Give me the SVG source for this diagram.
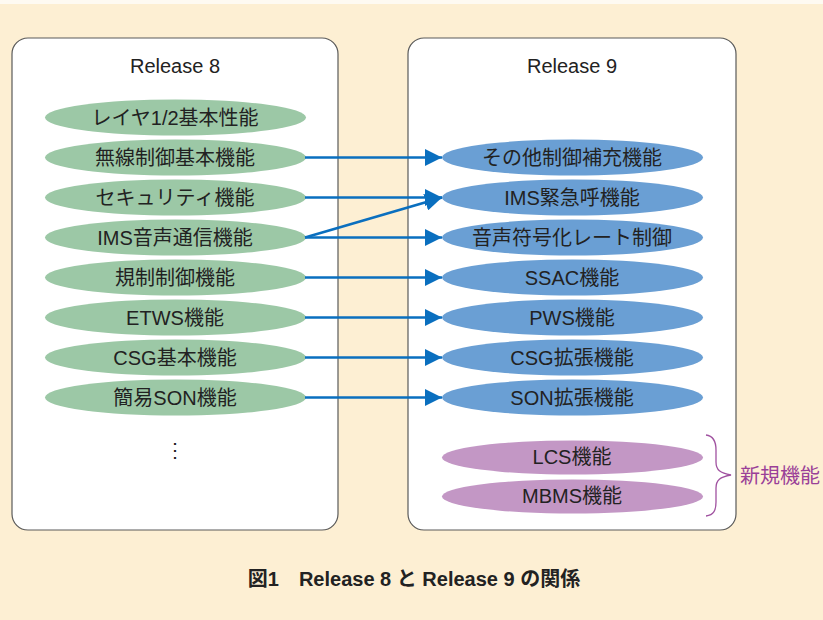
<svg xmlns="http://www.w3.org/2000/svg" width="823" height="620" viewBox="0 0 823 620">
<defs>
<style>
.box{fill:#fff;stroke:#5a5a5a;stroke-width:1.2}
.t{font-family:"Liberation Sans","Noto Sans CJK JP",sans-serif;font-size:20px;fill:#222;text-anchor:middle;dominant-baseline:central}
.g{fill:#9cc8a6}
.b{fill:#6a9fd4}
.p{fill:#c397c5}
.c{stroke:#0a6fbf;stroke-width:2.6;fill:none;marker-end:url(#ah)}
</style>
<marker id="ah" markerWidth="17" markerHeight="17" refX="17" refY="8.5" orient="auto" markerUnits="userSpaceOnUse">
<path d="M0,0 L17,8.5 L0,17 Z" fill="#0a6fbf"/>
</marker>
</defs>
<rect width="823" height="620" fill="#fdefd3"/>
<rect width="823" height="4" fill="#fefaf2"/>
<g id="release8">
<rect class="box" x="12" y="38" width="326" height="492" rx="16"/>
<text class="t" x="175" y="66">Release 8</text>
</g>
<g id="release9">
<rect class="box" x="408" y="38" width="328" height="492" rx="16"/>
<text class="t" x="572" y="66">Release 9</text>
</g>
<g id="r8-1"><ellipse class="g" cx="175.5" cy="117.5" rx="130.5" ry="18"/><text class="t" x="175" y="118">レイヤ1/2基本性能</text></g>
<g id="r8-2"><ellipse class="g" cx="175.5" cy="157.5" rx="130.5" ry="18"/><text class="t" x="175" y="158">無線制御基本機能</text></g>
<g id="r8-3"><ellipse class="g" cx="175.5" cy="197.5" rx="130.5" ry="18"/><text class="t" x="175" y="198">セキュリティ機能</text></g>
<g id="r8-4"><ellipse class="g" cx="175.5" cy="237.5" rx="130.5" ry="18"/><text class="t" x="175" y="238">IMS音声通信機能</text></g>
<g id="r8-5"><ellipse class="g" cx="175.5" cy="277.5" rx="130.5" ry="18"/><text class="t" x="175" y="278">規制制御機能</text></g>
<g id="r8-6"><ellipse class="g" cx="175.5" cy="317.5" rx="130.5" ry="18"/><text class="t" x="175" y="318">ETWS機能</text></g>
<g id="r8-7"><ellipse class="g" cx="175.5" cy="357.5" rx="130.5" ry="18"/><text class="t" x="175" y="358">CSG基本機能</text></g>
<g id="r8-8"><ellipse class="g" cx="175.5" cy="397.5" rx="130.5" ry="18"/><text class="t" x="175" y="398">簡易SON機能</text></g>
<g id="r8-more"><text class="t" x="175" y="450">⋮</text></g>
<g id="r9-1"><ellipse class="b" cx="572.5" cy="157.5" rx="130.5" ry="18"/><text class="t" x="572" y="158">その他制御補充機能</text></g>
<g id="r9-2"><ellipse class="b" cx="572.5" cy="197.5" rx="130.5" ry="18"/><text class="t" x="572" y="198">IMS緊急呼機能</text></g>
<g id="r9-3"><ellipse class="b" cx="572.5" cy="237.5" rx="130.5" ry="18"/><text class="t" x="572" y="238">音声符号化レート制御</text></g>
<g id="r9-4"><ellipse class="b" cx="572.5" cy="277.5" rx="130.5" ry="18"/><text class="t" x="572" y="278">SSAC機能</text></g>
<g id="r9-5"><ellipse class="b" cx="572.5" cy="317.5" rx="130.5" ry="18"/><text class="t" x="572" y="318">PWS機能</text></g>
<g id="r9-6"><ellipse class="b" cx="572.5" cy="357.5" rx="130.5" ry="18"/><text class="t" x="572" y="358">CSG拡張機能</text></g>
<g id="r9-7"><ellipse class="b" cx="572.5" cy="397.5" rx="130.5" ry="18"/><text class="t" x="572" y="398">SON拡張機能</text></g>
<g id="r9-8"><ellipse class="p" cx="572.5" cy="457.5" rx="130.5" ry="17"/><text class="t" x="572" y="457">LCS機能</text></g>
<g id="r9-9"><ellipse class="p" cx="572.5" cy="496.5" rx="130.5" ry="17"/><text class="t" x="572" y="496">MBMS機能</text></g>
<g id="connectors">
<line class="c" x1="305" y1="157.5" x2="442" y2="157.5"/>
<line class="c" x1="305" y1="197.5" x2="442" y2="197.5"/>
<line class="c" x1="305" y1="237.5" x2="442" y2="197.5"/>
<line class="c" x1="305" y1="237.5" x2="442" y2="237.5"/>
<line class="c" x1="305" y1="277.5" x2="442" y2="277.5"/>
<line class="c" x1="305" y1="317.5" x2="442" y2="317.5"/>
<line class="c" x1="305" y1="357.5" x2="442" y2="357.5"/>
<line class="c" x1="305" y1="397.5" x2="442" y2="397.5"/>
</g>
<g id="new-features">
<path d="M706,435 C714,436 716,442 716,450 L716,462 C716,470 720,473 731,475 C720,477 716,480 716,488 L716,502 C716,510 714,515 706,516" fill="none" stroke="#a052a0" stroke-width="1.3"/>
<text x="740" y="476" font-family="Liberation Sans,'Noto Sans CJK JP',sans-serif" font-size="20" fill="#9a3f98" dominant-baseline="central">新規機能</text>
</g>
<text x="414" y="579" font-family="Liberation Sans,'Noto Sans CJK JP',sans-serif" font-size="20" font-weight="bold" fill="#222" text-anchor="middle" dominant-baseline="central">図1　Release 8 と Release 9 の関係</text>
</svg>
